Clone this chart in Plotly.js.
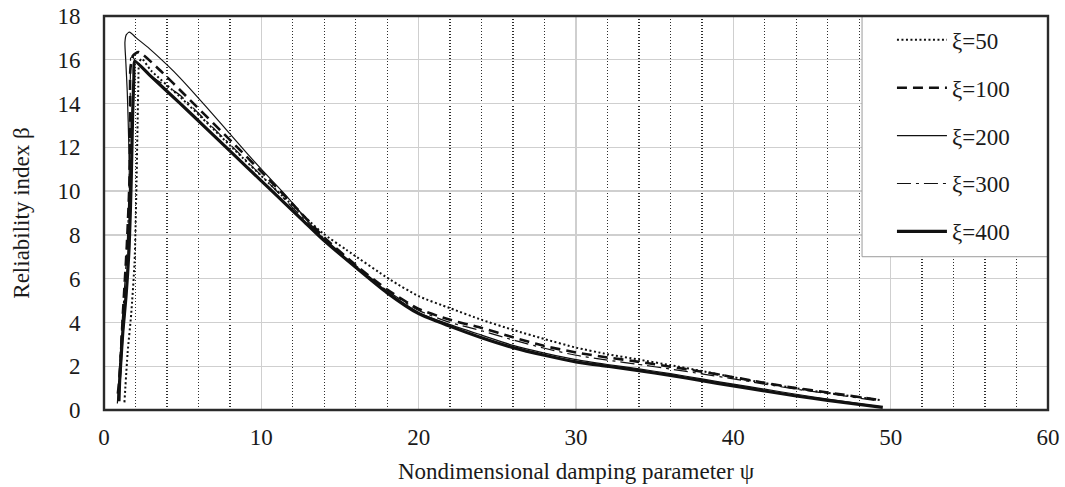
<!DOCTYPE html>
<html>
<head>
<meta charset="utf-8">
<script src="https://cdn.plot.ly/plotly-3.0.1.min.js"></script>
<style>
  html, body { margin: 0; padding: 0; background: #ffffff; }
  #chart { width: 1065px; height: 487px; }
</style>
</head>
<body>
<div id="chart"></div>
<script>
// ---- data ----
const seriesNames = ["ξ=50", "ξ=100", "ξ=200", "ξ=300", "ξ=400"];

const x50 = [1.3, 1.5, 1.73, 1.94, 2.05, 2.12, 2.18, 2.24, 2.4, 3.0, 4.8, 6.5, 8.2, 10.5, 12.2, 13.9, 15.4, 18.2, 20, 22, 24, 26, 28, 30, 32, 34, 36, 38, 40, 42, 44, 46, 49.3];
const y50 = [0.35, 2.6, 4.4, 6.7, 9.8, 12.5, 14.8, 15.9, 16.05, 15.5, 14.33, 13.15, 11.95, 10.35, 9.2, 8.08, 7.32, 5.95, 5.2, 4.65, 4.12, 3.66, 3.24, 2.85, 2.55, 2.3, 2.05, 1.78, 1.5, 1.23, 0.99, 0.78, 0.46];

const x100 = [0.88, 1.0, 1.2, 1.45, 1.62, 1.66, 1.68, 1.85, 2.2, 3.3, 5.44, 8.2, 10.5, 12.2, 13.9, 16, 18, 20, 22, 24, 26, 28, 30, 32, 34, 36, 38, 40, 42, 44, 46, 49.3];
const y100 = [0.75, 1.6, 4.4, 7.5, 10.5, 13.5, 15.6, 16.2, 16.35, 15.7, 14.18, 12.2, 10.52, 9.25, 7.95, 6.62, 5.5, 4.62, 4.12, 3.75, 3.32, 2.92, 2.63, 2.4, 2.2, 1.98, 1.75, 1.5, 1.24, 1.0, 0.8, 0.46];

const x200 = [0.95, 1.05, 1.2, 1.38, 1.55, 1.62, 1.58, 1.48, 1.38, 1.33, 1.42, 1.62, 2.05, 2.9, 3.96, 4.8, 6.5, 8.2, 10, 11.5, 12.7, 13.9, 16, 18, 20, 22, 24, 26, 28, 30, 32, 34, 36, 38, 40, 42, 44, 46, 49.4];
const y200 = [0.5, 1.5, 3.3, 5.0, 7.3, 9.5, 12, 14.5, 16.0, 16.8, 17.15, 17.26, 17.0, 16.5, 15.8, 15.2, 13.85, 12.45, 11.0, 9.85, 8.85, 7.85, 6.55, 5.38, 4.45, 3.9, 3.42, 2.95, 2.6, 2.3, 2.08, 1.88, 1.66, 1.42, 1.18, 0.95, 0.72, 0.5, 0.15];

const x300 = [0.85, 0.95, 1.1, 1.3, 1.5, 1.6, 1.66, 1.68, 1.72, 1.95, 3.0, 4.8, 6.5, 8.2, 10.5, 12.2, 13.9, 16, 18, 20, 22, 24, 26, 28, 30, 32, 34, 36, 38, 40, 42, 44, 46, 49.2];
const y300 = [0.3, 1.5, 3.5, 5.5, 8.0, 10.5, 13.5, 15.5, 16.25, 16.0, 15.25, 14.4, 13.2, 12.0, 10.35, 9.1, 7.9, 6.6, 5.45, 4.55, 4.0, 3.62, 3.2, 2.82, 2.5, 2.28, 2.08, 1.87, 1.65, 1.42, 1.18, 0.95, 0.75, 0.42];

const x400 = [0.95, 1.0, 1.2, 1.4, 1.6, 1.73, 1.82, 1.9, 1.95, 2.9, 4.8, 6.5, 8.2, 10, 11.5, 12.7, 13.9, 16, 18, 20, 22, 24, 26, 28, 30, 32, 34, 36, 38, 40, 42, 44, 46, 49.5];
const y400 = [0.4, 1.4, 3.6, 5.2, 7.5, 10.5, 13.5, 15.2, 15.93, 15.3, 14.03, 12.87, 11.7, 10.47, 9.44, 8.62, 7.8, 6.52, 5.35, 4.4, 3.82, 3.3, 2.85, 2.5, 2.2, 2.0, 1.8, 1.58, 1.34, 1.1, 0.87, 0.64, 0.44, 0.12];

const xTitle = "Nondimensional damping parameter ψ";
const yTitle = "Reliability index β";

// ---- styles ----
const FONT = "Liberation Serif, Times New Roman, serif";
const ink = "#111111";
const styles = [
  {width: 2,   dash: "2px,2.5px"},
  {width: 2.6, dash: "10px,6px"},
  {width: 1.2, dash: "solid"},
  {width: 1.2, dash: "14px,5px,3px,5px"},
  {width: 3.2, dash: "solid"}
];

const xs = [x50, x100, x200, x300, x400];
const ys = [y50, y100, y200, y300, y400];

const traces = seriesNames.map((name, i) => ({
  type: "scatter",
  mode: "lines",
  name: name,
  x: xs[i],
  y: ys[i],
  legendgroup: "g" + i,
  line: {color: ink, width: styles[i].width, dash: styles[i].dash, shape: "spline", smoothing: 0.6},
  hoverinfo: "skip"
}));

const layout = {
  width: 1065,
  height: 487,
  margin: {l: 104, r: 17, t: 16, b: 77, pad: 0},
  paper_bgcolor: "#ffffff",
  plot_bgcolor: "#ffffff",
  font: {family: FONT, size: 23, color: "#1a1a1a"},
  showlegend: true,
  legend: {
    x: 0.8347, y: 0.994, xanchor: "left", yanchor: "top",
    bgcolor: "rgba(0,0,0,0)", borderwidth: 0,
    itemwidth: 50,
    traceorder: "grouped",
    tracegroupgap: 15,
    font: {family: FONT, size: 23, color: "#1a1a1a"}
  },
  xaxis: {
    range: [0, 60],
    dtick: 10,
    tick0: 0,
    showgrid: true,
    gridcolor: "#cfcfcf",
    gridwidth: 1.4,
    zeroline: false,
    showline: false,
    ticks: "outside",
    ticklen: 6,
    tickcolor: "rgba(0,0,0,0)",
    tickfont: {family: FONT, size: 23, color: "#1a1a1a"},
    minor: {dtick: 2, tick0: 0, showgrid: true, gridcolor: "#2e2e2e", gridwidth: 1.3, griddash: "1.3px,1.7px"},
    title: {text: xTitle, font: {family: FONT, size: 23, color: "#1a1a1a"}, standoff: 14}
  },
  yaxis: {
    range: [0, 18],
    dtick: 2,
    tick0: 0,
    showgrid: true,
    gridcolor: "#cfcfcf",
    gridwidth: 1.4,
    zeroline: false,
    showline: false,
    ticks: "outside",
    ticklen: 18,
    tickcolor: "rgba(0,0,0,0)",
    tickfont: {family: FONT, size: 23, color: "#1a1a1a"},
    title: {text: yTitle, font: {family: FONT, size: 23, color: "#1a1a1a"}, standoff: 21}
  },
  shapes: [
    {type: "rect", xref: "paper", yref: "paper", x0: 0.803, x1: 1, y0: 0.389, y1: 1,
     fillcolor: "#ffffff", line: {color: "#9a9a9a", width: 1}, layer: "above"},
    {type: "rect", xref: "paper", yref: "paper", x0: 0, x1: 1, y0: 0, y1: 1,
     fillcolor: "rgba(0,0,0,0)", line: {color: "#2a2a2a", width: 2.4}, layer: "above"}
  ]
};

Plotly.newPlot("chart", traces, layout, {displayModeBar: false, staticPlot: true});
</script>
</body>
</html>
